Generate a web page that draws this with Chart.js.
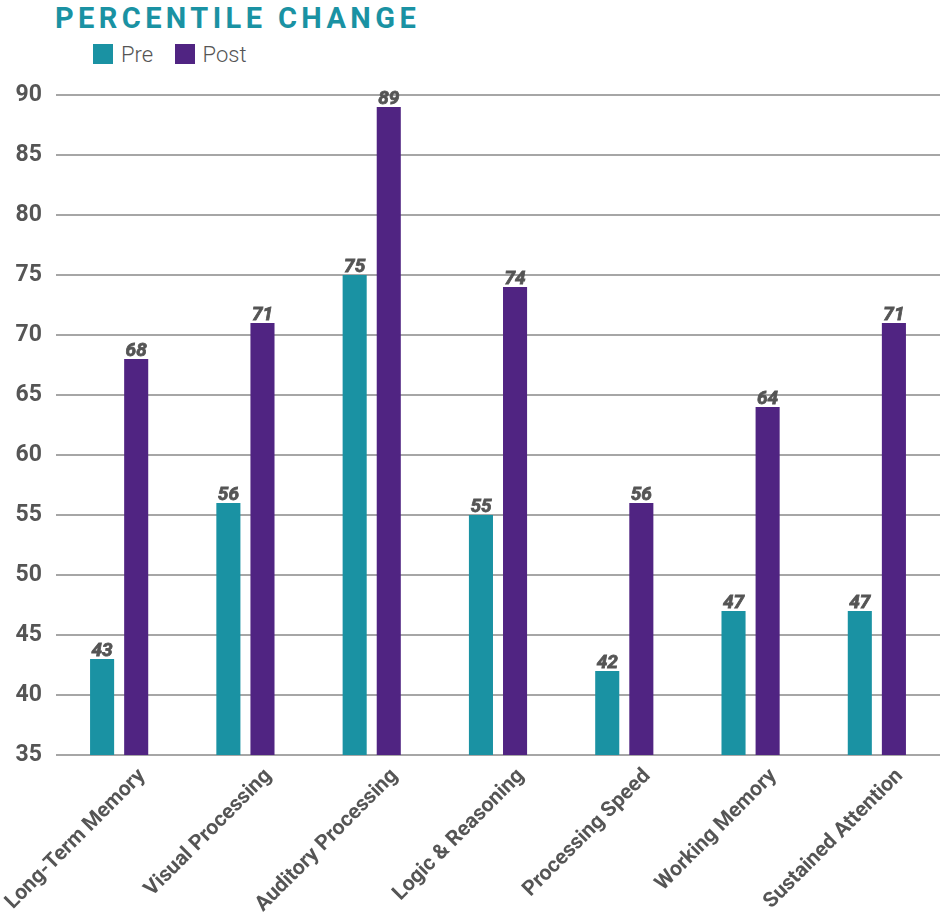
<!DOCTYPE html>
<html>
<head>
<meta charset="utf-8">
<script src="https://cdn.jsdelivr.net/npm/chart.js@4"></script>
<style>
  body { margin: 0; background: #fff; font-family: Roboto, sans-serif; }
  #title { position: absolute; left: 55px; top: 1px; font-size: 29px; font-weight: 700; letter-spacing: 4.4px; color: #1a92a3; }
  #legend { position: absolute; left: 93px; top: 42px; font-size: 22px; font-weight: 300; color: #555; }
  #legend span.box { display: inline-block; width: 20px; height: 20px; vertical-align: -2px; margin-right: 8px; }
  #legend span.item { margin-right: 16px; }
  #wrap { position: absolute; left: 0; top: 75px; width: 940px; height: 844px; }
</style>
</head>
<body>
<div id="title">PERCENTILE CHANGE</div>
<div id="legend">
  <span class="item"><span class="box" style="background:#1a92a3"></span>Pre</span>
  <span class="item"><span class="box" style="background:#502482"></span>Post</span>
</div>
<div id="wrap"><canvas id="chart"></canvas></div>
<script>
const categories = ['Long-Term Memory', 'Visual Processing', 'Auditory Processing', 'Logic & Reasoning', 'Processing Speed', 'Working Memory', 'Sustained Attention'];
const preValues = [43, 56, 75, 55, 42, 47, 47];
const postValues = [68, 71, 89, 74, 56, 64, 71];

const preColor = '#1a92a3';
const postColor = '#502482';

// value labels above each bar
const barLabels = {
  id: 'barLabels',
  afterDatasetsDraw(chart) {
    const ctx = chart.ctx;
    ctx.save();
    ctx.font = 'italic bold 19px Roboto';
    ctx.fillStyle = '#555';
    ctx.strokeStyle = '#555';
    ctx.lineWidth = 0.8;
    ctx.textAlign = 'center';
    ctx.textBaseline = 'bottom';
    chart.data.datasets.forEach((ds, i) => {
      chart.getDatasetMeta(i).data.forEach((bar, j) => {
        ctx.fillText(ds.data[j], bar.x, bar.y + 2);
        ctx.strokeText(ds.data[j], bar.x, bar.y + 2);
      });
    });
    ctx.restore();
  }
};

new Chart(document.getElementById('chart'), {
  type: 'bar',
  data: {
    labels: categories,
    datasets: [
      { label: 'Pre', data: preValues, backgroundColor: preColor },
      { label: 'Post', data: postValues, backgroundColor: postColor }
    ]
  },
  options: {
    responsive: true,
    maintainAspectRatio: false,
    animation: false,
    layout: { padding: { top: 20, right: 0, left: 0, bottom: 0 } },
    datasets: { bar: { categoryPercentage: 0.54, barPercentage: 0.706 } },
    plugins: {
      legend: { display: false },
      tooltip: { enabled: false }
    },
    scales: {
      x: {
        grid: { display: false },
        border: { display: false },
        ticks: {
          color: '#555',
          font: { family: 'Roboto', size: 21, weight: 'bold' },
          minRotation: 45,
          maxRotation: 45,
          padding: 1,
          labelOffset: 23
        },
        afterFit(scale) {
          scale.height = 164;
          scale.paddingLeft = 0;
          scale.paddingRight = 0;
        }
      },
      y: {
        min: 35,
        max: 90,
        grid: { color: '#a6a6a6', lineWidth: 2, drawTicks: false },
        border: { display: false },
        ticks: {
          stepSize: 5,
          color: '#555',
          padding: 14,
          font: { family: 'Roboto', size: 23, weight: 'bold' }
        },
        afterFit(scale) {
          scale.width = 56;
          scale.paddingTop = 0;
          scale.paddingBottom = 0;
        }
      }
    }
  },
  plugins: [barLabels]
});
</script>
</body>
</html>
